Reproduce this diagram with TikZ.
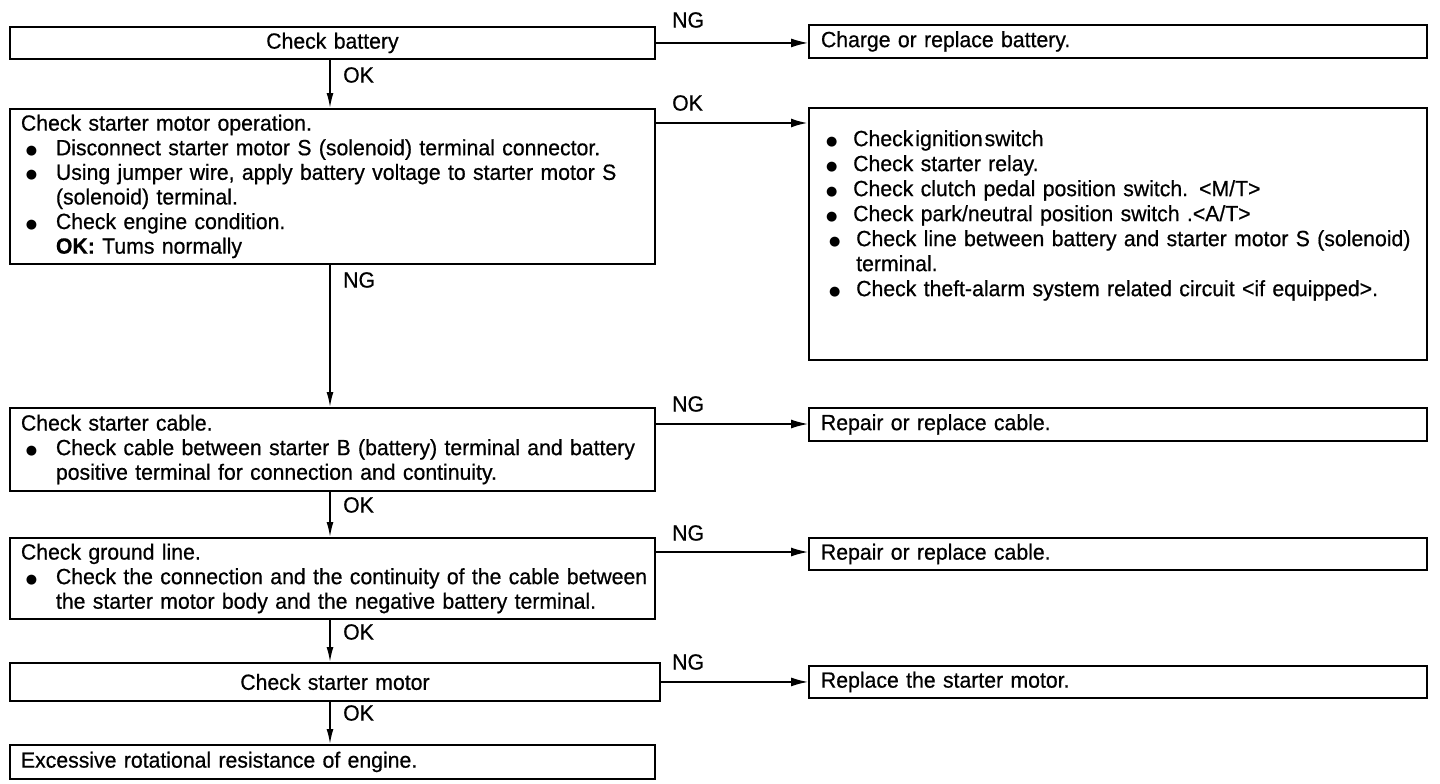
\documentclass[tikz,border=0pt]{standalone}
\usepackage{fontspec}
\setmainfont{Liberation Sans}[FakeStretch=0.965,FakeBold=0.6]
\newfontfamily\symfont{DejaVu Sans}
\usetikzlibrary{arrows.meta,calc}
\setlength{\parindent}{0pt}
\newcommand{\bdot}{{\symfont\fontsize{13}{13}\selectfont ●}}
\newcommand{\bl}{\makebox[35pt][l]{\hspace{5pt}\raisebox{1pt}{\bdot}}}
\newcommand{\rbl}{\makebox[33pt][l]{\hspace{6pt}\raisebox{1pt}{\bdot}}}
\newcommand{\ind}{\hspace*{35pt}}
\begin{document}
\begin{tikzpicture}[x=1pt,y=-1pt,
  every node/.style={font=\fontsize{22}{24.6}\selectfont},
  lbox/.style={draw, line width=1.9pt, anchor=north west, inner xsep=11pt, inner ysep=0pt,
    text width=623pt, minimum width=645pt, align=left},
  rbox/.style={draw, line width=1.9pt, anchor=north west, inner xsep=12pt, inner ysep=0pt,
    text width=594pt, minimum width=618pt, align=left},
  lbl/.style={anchor=west, inner sep=0pt},
  arr/.style={-{Latex[length=15pt,width=7pt]}, line width=1.6pt},
  harr/.style={-{Latex[length=17pt,width=9pt]}, line width=1.4pt}]
\useasboundingbox (0,0) rectangle (1440,784);

% left column
\node[lbox, align=center, minimum height=32pt] (b1) at (9,26) {Check battery};
\node[lbox, minimum height=155pt] (b2) at (9,108) {Check starter motor operation.\\
\bl Disconnect starter motor S (solenoid) terminal connector.\\
\bl \mbox{Using jumper wire, apply battery voltage to starter motor S}\\
\ind (solenoid) terminal.\\
\bl Check engine condition.\\
\ind \textbf{OK:} Tums normally};
\node[lbox, minimum height=83pt] (b3) at (9,407) {Check starter cable.\\
\bl \mbox{Check cable between starter B (battery) terminal and battery}\\
\ind positive terminal for connection and continuity.};
\node[lbox, minimum height=81pt] (b4) at (9,537) {Check ground line.\\
\bl \mbox{Check the connection and the continuity of the cable between}\\
\ind the starter motor body and the negative battery terminal.};
\node[lbox, align=center, text width=628pt, minimum width=650pt, minimum height=38pt] (b5) at (9,662) {Check starter motor};
\node[lbox, minimum height=34pt] (b6) at (9,744) {Excessive rotational resistance of engine.};

% right column
\node[rbox, minimum height=33pt] (r1) at (808,24) {Charge or replace battery.};
\node[rbox, minimum height=252pt] (r2) at (808,107) {};
\node[anchor=north west, inner sep=0pt, text width=594pt, align=left,
  font=\fontsize{22}{25}\selectfont] (r2t) at (820,130) {%
\rbl {\spaceskip=2pt Check ignition switch}\\
\rbl Check starter relay.\\
\rbl Check clutch pedal position switch. <M/T>\\
\rbl Check park/neutral position switch .<A/T>\\
\hspace*{3pt}\rbl \mbox{Check line between battery and starter motor S (solenoid)}\\
\hspace*{36pt}terminal.\\
\hspace*{3pt}\rbl Check theft-alarm system related circuit <if equipped>.};
\node[rbox, minimum height=33pt] (r3) at (808,407) {Repair or replace cable.};
\node[rbox, minimum height=32pt] (r4) at (808,537) {Repair or replace cable.};
\node[rbox, minimum height=32pt] (r5) at (808,665) {Replace the starter motor.};

% vertical connectors
\coordinate (ax) at (330,0);
\draw[arr] (ax |- b1.south) -- (ax |- b2.north);
\draw[arr] (ax |- b2.south) -- (ax |- b3.north);
\draw[arr] (ax |- b3.south) -- (ax |- b4.north);
\draw[arr] (ax |- b4.south) -- (ax |- b5.north);
\draw[arr] (ax |- b5.south) -- (ax |- b6.north);

% horizontal connectors
\draw[harr] (b1.east) -- (b1.east -| r1.west);
\draw[harr, line width=2.4pt] ([yshift=-15pt]b2.north east) -- ([yshift=-15pt]b2.north east -| r2.west);
\draw[harr] ([yshift=-17pt]b3.north east) -- ([yshift=-17pt]b3.north east -| r3.west);
\draw[harr] ([yshift=-15pt]b4.north east) -- ([yshift=-15pt]b4.north east -| r4.west);
\draw[harr] (b5.east) -- (b5.east -| r5.west);

% labels
\node[lbl] (n1) at (672,20) {NG};
\node[lbl] (o2) at (672,103) {OK};
\node[lbl] (o1) at (343,75) {OK};
\node[lbl] (n2) at (343,280) {NG};
\node[lbl] (n3) at (672,404) {NG};
\node[lbl] (o3) at (343,505) {OK};
\node[lbl] (n4) at (672,533) {NG};
\node[lbl] (o4) at (343,632) {OK};
\node[lbl] (n5) at (672,662) {NG};
\node[lbl] (o5) at (343,713) {OK};
\end{tikzpicture}
\end{document}
